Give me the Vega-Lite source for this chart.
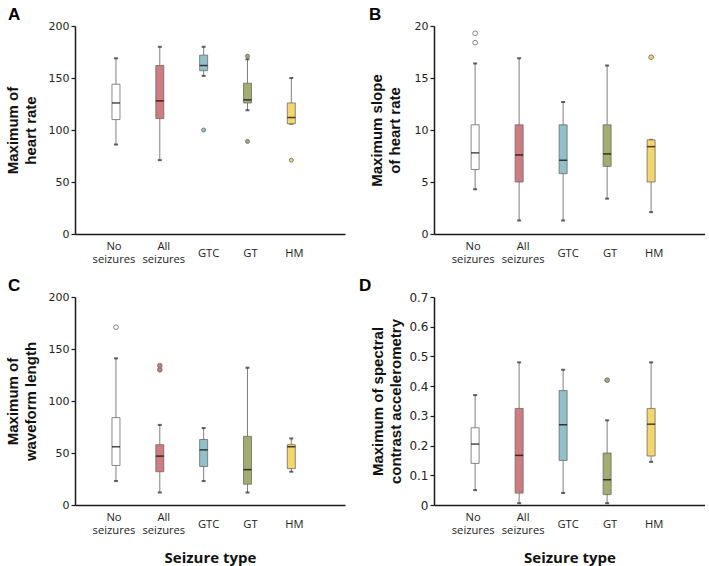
{
  "$schema": "https://vega.github.io/schema/vega-lite/v6.json",
  "background": "white",
  "padding": {"left": 5, "top": 6, "right": 0, "bottom": 0},
  "datasets": {
    "boxes": [
      {"panel": "A", "type": "No seizures", "lower": 86, "q1": 110, "median": 126, "q3": 144, "upper": 169},
      {"panel": "A", "type": "All seizures", "lower": 71, "q1": 111, "median": 128, "q3": 162, "upper": 180},
      {"panel": "A", "type": "GTC", "lower": 152, "q1": 157, "median": 162, "q3": 172, "upper": 180},
      {"panel": "A", "type": "GT", "lower": 119, "q1": 126, "median": 129, "q3": 145, "upper": 168},
      {"panel": "A", "type": "HM", "lower": 106, "q1": 106, "median": 112, "q3": 126, "upper": 150},
      {"panel": "B", "type": "No seizures", "lower": 4.3, "q1": 6.2, "median": 7.8, "q3": 10.5, "upper": 16.4},
      {"panel": "B", "type": "All seizures", "lower": 1.3, "q1": 5.0, "median": 7.6, "q3": 10.5, "upper": 16.9},
      {"panel": "B", "type": "GTC", "lower": 1.3, "q1": 5.8, "median": 7.1, "q3": 10.5, "upper": 12.7},
      {"panel": "B", "type": "GT", "lower": 3.4, "q1": 6.5, "median": 7.7, "q3": 10.5, "upper": 16.2},
      {"panel": "B", "type": "HM", "lower": 2.1, "q1": 5.0, "median": 8.4, "q3": 9.05, "upper": 9.05},
      {"panel": "C", "type": "No seizures", "lower": 23, "q1": 38, "median": 56, "q3": 84, "upper": 141},
      {"panel": "C", "type": "All seizures", "lower": 12, "q1": 32, "median": 47, "q3": 58, "upper": 77},
      {"panel": "C", "type": "GTC", "lower": 23, "q1": 37, "median": 53, "q3": 63, "upper": 74},
      {"panel": "C", "type": "GT", "lower": 12, "q1": 20, "median": 34, "q3": 66, "upper": 132},
      {"panel": "C", "type": "HM", "lower": 32, "q1": 35, "median": 56, "q3": 58, "upper": 64},
      {"panel": "D", "type": "No seizures", "lower": 0.05, "q1": 0.14, "median": 0.205, "q3": 0.26, "upper": 0.37},
      {"panel": "D", "type": "All seizures", "lower": 0.006, "q1": 0.04, "median": 0.167, "q3": 0.325, "upper": 0.48},
      {"panel": "D", "type": "GTC", "lower": 0.04, "q1": 0.15, "median": 0.27, "q3": 0.385, "upper": 0.455},
      {"panel": "D", "type": "GT", "lower": 0.006, "q1": 0.035, "median": 0.085, "q3": 0.175, "upper": 0.285},
      {"panel": "D", "type": "HM", "lower": 0.145, "q1": 0.165, "median": 0.272, "q3": 0.325, "upper": 0.48}
    ],
    "outliers": [
      {"panel": "A", "type": "GTC", "value": 100},
      {"panel": "A", "type": "GT", "value": 171},
      {"panel": "A", "type": "GT", "value": 89},
      {"panel": "A", "type": "HM", "value": 71},
      {"panel": "B", "type": "No seizures", "value": 18.4},
      {"panel": "B", "type": "No seizures", "value": 19.3},
      {"panel": "B", "type": "HM", "value": 17.0},
      {"panel": "C", "type": "No seizures", "value": 171},
      {"panel": "C", "type": "All seizures", "value": 130},
      {"panel": "C", "type": "All seizures", "value": 134},
      {"panel": "D", "type": "GT", "value": 0.42}
    ]
  },
  "columns": 2,
  "align": "each",
  "bounds": "flush",
  "spacing": {"row": 63, "column": 89},
  "concat": [
    {
      "title": {"text": "A", "anchor": "start", "frame": "bounds", "font": "Liberation Sans", "fontSize": 17, "fontWeight": "bold", "color": "#000", "dx": 3, "offset": -4},
      "width": 270, "height": 208,
      "encoding": {"x": {"field": "type", "type": "nominal", "sort": ["No seizures", "All seizures", "GTC", "GT", "HM"], "scale": {"domain": ["No seizures", "All seizures", "GTC", "GT", "HM"], "paddingInner": 0.8, "paddingOuter": 0.98, "align": 0.426}, "axis": {"title": null}}},
      "layer": [
        {"data": {"name": "boxes"}, "transform": [{"filter": "datum.panel == 'A'"}], "mark": {"type": "rule", "color": "#7f7f7f", "strokeWidth": 1}, "encoding": {"y": {"field": "lower", "type": "quantitative", "scale": {"domain": [0, 200], "nice": false}, "axis": {"title": ["Maximum of", "heart rate"], "values": [0, 50, 100, 150, 200], "titlePadding": 10}}, "y2": {"field": "upper"}}},
        {"data": {"name": "boxes"}, "transform": [{"filter": "datum.panel == 'A'"}], "mark": {"type": "tick", "color": "#222", "size": 4, "thickness": 2}, "encoding": {"y": {"field": "lower", "type": "quantitative", "axis": {"title": ["Maximum of", "heart rate"], "values": [0, 50, 100, 150, 200], "titlePadding": 10}}}},
        {"data": {"name": "boxes"}, "transform": [{"filter": "datum.panel == 'A'"}], "mark": {"type": "tick", "color": "#222", "size": 4, "thickness": 2}, "encoding": {"y": {"field": "upper", "type": "quantitative", "axis": {"title": ["Maximum of", "heart rate"], "values": [0, 50, 100, 150, 200], "titlePadding": 10}}}},
        {"data": {"name": "boxes"}, "transform": [{"filter": "datum.panel == 'A'"}], "mark": {"type": "bar", "size": 8, "stroke": "#6b6b6b", "strokeWidth": 0.8}, "encoding": {"y": {"field": "q1", "type": "quantitative", "axis": {"title": ["Maximum of", "heart rate"], "values": [0, 50, 100, 150, 200], "titlePadding": 10}}, "y2": {"field": "q3"}, "fill": {"field": "type", "type": "nominal", "scale": {"domain": ["No seizures", "All seizures", "GTC", "GT", "HM"], "range": ["#ffffff", "#cf7c80", "#93bfc9", "#a3ad70", "#f5d66c"]}, "legend": null}}},
        {"data": {"name": "boxes"}, "transform": [{"filter": "datum.panel == 'A'"}], "mark": {"type": "tick", "color": "#000", "size": 8, "thickness": 1.5}, "encoding": {"y": {"field": "median", "type": "quantitative", "axis": {"title": ["Maximum of", "heart rate"], "values": [0, 50, 100, 150, 200], "titlePadding": 10}}}},
        {"data": {"name": "outliers"}, "transform": [{"filter": "datum.panel == 'A'"}], "mark": {"type": "point", "shape": "circle", "filled": true, "size": 16, "stroke": "#666", "strokeWidth": 0.8, "opacity": 1}, "encoding": {"y": {"field": "value", "type": "quantitative", "axis": {"title": ["Maximum of", "heart rate"], "values": [0, 50, 100, 150, 200], "titlePadding": 10}}, "fill": {"field": "type", "type": "nominal", "legend": null}}}
      ]
    },
    {
      "title": {"text": "B", "anchor": "start", "frame": "bounds", "font": "Liberation Sans", "fontSize": 17, "fontWeight": "bold", "color": "#000", "dx": 0, "offset": -4},
      "width": 271, "height": 208,
      "encoding": {"x": {"field": "type", "type": "nominal", "sort": ["No seizures", "All seizures", "GTC", "GT", "HM"], "scale": {"domain": ["No seizures", "All seizures", "GTC", "GT", "HM"], "paddingInner": 0.8, "paddingOuter": 0.98, "align": 0.426}, "axis": {"title": null}}},
      "layer": [
        {"data": {"name": "boxes"}, "transform": [{"filter": "datum.panel == 'B'"}], "mark": {"type": "rule", "color": "#7f7f7f", "strokeWidth": 1}, "encoding": {"y": {"field": "lower", "type": "quantitative", "scale": {"domain": [0, 20], "nice": false}, "axis": {"title": ["Maximum slope", "of heart rate"], "values": [0, 5, 10, 15, 20], "titlePadding": 12}}, "y2": {"field": "upper"}}},
        {"data": {"name": "boxes"}, "transform": [{"filter": "datum.panel == 'B'"}], "mark": {"type": "tick", "color": "#222", "size": 4, "thickness": 2}, "encoding": {"y": {"field": "lower", "type": "quantitative", "axis": {"title": ["Maximum slope", "of heart rate"], "values": [0, 5, 10, 15, 20], "titlePadding": 12}}}},
        {"data": {"name": "boxes"}, "transform": [{"filter": "datum.panel == 'B'"}], "mark": {"type": "tick", "color": "#222", "size": 4, "thickness": 2}, "encoding": {"y": {"field": "upper", "type": "quantitative", "axis": {"title": ["Maximum slope", "of heart rate"], "values": [0, 5, 10, 15, 20], "titlePadding": 12}}}},
        {"data": {"name": "boxes"}, "transform": [{"filter": "datum.panel == 'B'"}], "mark": {"type": "bar", "size": 8, "stroke": "#6b6b6b", "strokeWidth": 0.8}, "encoding": {"y": {"field": "q1", "type": "quantitative", "axis": {"title": ["Maximum slope", "of heart rate"], "values": [0, 5, 10, 15, 20], "titlePadding": 12}}, "y2": {"field": "q3"}, "fill": {"field": "type", "type": "nominal", "scale": {"domain": ["No seizures", "All seizures", "GTC", "GT", "HM"], "range": ["#ffffff", "#cf7c80", "#93bfc9", "#a3ad70", "#f5d66c"]}, "legend": null}}},
        {"data": {"name": "boxes"}, "transform": [{"filter": "datum.panel == 'B'"}], "mark": {"type": "tick", "color": "#000", "size": 8, "thickness": 1.5}, "encoding": {"y": {"field": "median", "type": "quantitative", "axis": {"title": ["Maximum slope", "of heart rate"], "values": [0, 5, 10, 15, 20], "titlePadding": 12}}}},
        {"data": {"name": "outliers"}, "transform": [{"filter": "datum.panel == 'B'"}], "mark": {"type": "point", "shape": "circle", "filled": true, "size": 22, "stroke": "#666", "strokeWidth": 0.8, "opacity": 1}, "encoding": {"y": {"field": "value", "type": "quantitative", "axis": {"title": ["Maximum slope", "of heart rate"], "values": [0, 5, 10, 15, 20], "titlePadding": 12}}, "fill": {"field": "type", "type": "nominal", "legend": null}}}
      ]
    },
    {
      "title": {"text": "C", "anchor": "start", "frame": "bounds", "font": "Liberation Sans", "fontSize": 17, "fontWeight": "bold", "color": "#000", "dx": 3, "offset": -4},
      "width": 270, "height": 208,
      "encoding": {"x": {"field": "type", "type": "nominal", "sort": ["No seizures", "All seizures", "GTC", "GT", "HM"], "scale": {"domain": ["No seizures", "All seizures", "GTC", "GT", "HM"], "paddingInner": 0.8, "paddingOuter": 0.98, "align": 0.426}, "axis": {"title": "Seizure type"}}},
      "layer": [
        {"data": {"name": "boxes"}, "transform": [{"filter": "datum.panel == 'C'"}], "mark": {"type": "rule", "color": "#7f7f7f", "strokeWidth": 1}, "encoding": {"y": {"field": "lower", "type": "quantitative", "scale": {"domain": [0, 200], "nice": false}, "axis": {"title": ["Maximum of", "waveform length"], "values": [0, 50, 100, 150, 200], "titlePadding": 10}}, "y2": {"field": "upper"}}},
        {"data": {"name": "boxes"}, "transform": [{"filter": "datum.panel == 'C'"}], "mark": {"type": "tick", "color": "#222", "size": 4, "thickness": 2}, "encoding": {"y": {"field": "lower", "type": "quantitative", "axis": {"title": ["Maximum of", "waveform length"], "values": [0, 50, 100, 150, 200], "titlePadding": 10}}}},
        {"data": {"name": "boxes"}, "transform": [{"filter": "datum.panel == 'C'"}], "mark": {"type": "tick", "color": "#222", "size": 4, "thickness": 2}, "encoding": {"y": {"field": "upper", "type": "quantitative", "axis": {"title": ["Maximum of", "waveform length"], "values": [0, 50, 100, 150, 200], "titlePadding": 10}}}},
        {"data": {"name": "boxes"}, "transform": [{"filter": "datum.panel == 'C'"}], "mark": {"type": "bar", "size": 8, "stroke": "#6b6b6b", "strokeWidth": 0.8}, "encoding": {"y": {"field": "q1", "type": "quantitative", "axis": {"title": ["Maximum of", "waveform length"], "values": [0, 50, 100, 150, 200], "titlePadding": 10}}, "y2": {"field": "q3"}, "fill": {"field": "type", "type": "nominal", "scale": {"domain": ["No seizures", "All seizures", "GTC", "GT", "HM"], "range": ["#ffffff", "#cf7c80", "#93bfc9", "#a3ad70", "#f5d66c"]}, "legend": null}}},
        {"data": {"name": "boxes"}, "transform": [{"filter": "datum.panel == 'C'"}], "mark": {"type": "tick", "color": "#000", "size": 8, "thickness": 1.5}, "encoding": {"y": {"field": "median", "type": "quantitative", "axis": {"title": ["Maximum of", "waveform length"], "values": [0, 50, 100, 150, 200], "titlePadding": 10}}}},
        {"data": {"name": "outliers"}, "transform": [{"filter": "datum.panel == 'C'"}], "mark": {"type": "point", "shape": "circle", "filled": true, "size": 22, "stroke": "#666", "strokeWidth": 0.8, "opacity": 1}, "encoding": {"y": {"field": "value", "type": "quantitative", "axis": {"title": ["Maximum of", "waveform length"], "values": [0, 50, 100, 150, 200], "titlePadding": 10}}, "fill": {"field": "type", "type": "nominal", "legend": null}}}
      ]
    },
    {
      "title": {"text": "D", "anchor": "start", "frame": "bounds", "font": "Liberation Sans", "fontSize": 17, "fontWeight": "bold", "color": "#000", "dx": -12, "offset": -4},
      "width": 271, "height": 208,
      "encoding": {"x": {"field": "type", "type": "nominal", "sort": ["No seizures", "All seizures", "GTC", "GT", "HM"], "scale": {"domain": ["No seizures", "All seizures", "GTC", "GT", "HM"], "paddingInner": 0.8, "paddingOuter": 0.98, "align": 0.426}, "axis": {"title": "Seizure type"}}},
      "layer": [
        {"data": {"name": "boxes"}, "transform": [{"filter": "datum.panel == 'D'"}], "mark": {"type": "rule", "color": "#7f7f7f", "strokeWidth": 1}, "encoding": {"y": {"field": "lower", "type": "quantitative", "scale": {"domain": [0, 0.7], "nice": false}, "axis": {"title": ["Maximum of spectral", "contrast accelerometry"], "values": [0, 0.1, 0.2, 0.3, 0.4, 0.5, 0.6, 0.7], "labelExpr": "datum.value == 0 ? '0' : format(datum.value, '.1f')", "labelFontSize": 12, "titlePadding": 5}}, "y2": {"field": "upper"}}},
        {"data": {"name": "boxes"}, "transform": [{"filter": "datum.panel == 'D'"}], "mark": {"type": "tick", "color": "#222", "size": 4, "thickness": 2}, "encoding": {"y": {"field": "lower", "type": "quantitative", "axis": {"title": ["Maximum of spectral", "contrast accelerometry"], "values": [0, 0.1, 0.2, 0.3, 0.4, 0.5, 0.6, 0.7], "labelExpr": "datum.value == 0 ? '0' : format(datum.value, '.1f')", "labelFontSize": 12, "titlePadding": 5}}}},
        {"data": {"name": "boxes"}, "transform": [{"filter": "datum.panel == 'D'"}], "mark": {"type": "tick", "color": "#222", "size": 4, "thickness": 2}, "encoding": {"y": {"field": "upper", "type": "quantitative", "axis": {"title": ["Maximum of spectral", "contrast accelerometry"], "values": [0, 0.1, 0.2, 0.3, 0.4, 0.5, 0.6, 0.7], "labelExpr": "datum.value == 0 ? '0' : format(datum.value, '.1f')", "labelFontSize": 12, "titlePadding": 5}}}},
        {"data": {"name": "boxes"}, "transform": [{"filter": "datum.panel == 'D'"}], "mark": {"type": "bar", "size": 8, "stroke": "#6b6b6b", "strokeWidth": 0.8}, "encoding": {"y": {"field": "q1", "type": "quantitative", "axis": {"title": ["Maximum of spectral", "contrast accelerometry"], "values": [0, 0.1, 0.2, 0.3, 0.4, 0.5, 0.6, 0.7], "labelExpr": "datum.value == 0 ? '0' : format(datum.value, '.1f')", "labelFontSize": 12, "titlePadding": 5}}, "y2": {"field": "q3"}, "fill": {"field": "type", "type": "nominal", "scale": {"domain": ["No seizures", "All seizures", "GTC", "GT", "HM"], "range": ["#ffffff", "#cf7c80", "#93bfc9", "#a3ad70", "#f5d66c"]}, "legend": null}}},
        {"data": {"name": "boxes"}, "transform": [{"filter": "datum.panel == 'D'"}], "mark": {"type": "tick", "color": "#000", "size": 8, "thickness": 1.5}, "encoding": {"y": {"field": "median", "type": "quantitative", "axis": {"title": ["Maximum of spectral", "contrast accelerometry"], "values": [0, 0.1, 0.2, 0.3, 0.4, 0.5, 0.6, 0.7], "labelExpr": "datum.value == 0 ? '0' : format(datum.value, '.1f')", "labelFontSize": 12, "titlePadding": 5}}}},
        {"data": {"name": "outliers"}, "transform": [{"filter": "datum.panel == 'D'"}], "mark": {"type": "point", "shape": "circle", "filled": true, "size": 22, "stroke": "#666", "strokeWidth": 0.8, "opacity": 1}, "encoding": {"y": {"field": "value", "type": "quantitative", "axis": {"title": ["Maximum of spectral", "contrast accelerometry"], "values": [0, 0.1, 0.2, 0.3, 0.4, 0.5, 0.6, 0.7], "labelExpr": "datum.value == 0 ? '0' : format(datum.value, '.1f')", "labelFontSize": 12, "titlePadding": 5}}, "fill": {"field": "type", "type": "nominal", "legend": null}}}
      ]
    }
  ],
  "resolve": {"scale": {"fill": "independent"}},
  "config": {
    "view": {"stroke": null},
    "axis": {"grid": false, "domainColor": "#1a1a1a", "domainWidth": 1.5, "tickColor": "#1a1a1a", "tickWidth": 1.2, "labelColor": "#222", "titleColor": "#111"},
    "axisY": {"labelOverlap": false, "tickSize": 4, "labelFont": "DejaVu Sans", "labelFontSize": 11, "labelPadding": 2, "titleFont": "Liberation Sans", "titleFontSize": 15, "titleFontWeight": "bold", "titleLineHeight": 18},
    "axisX": {"labelAngle": 0, "labelExpr": "split(datum.label, ' ')", "labelFont": "Open Sans", "labelFontSize": 11.2, "labelBaseline": "middle", "labelPadding": {"condition": {"test": "datum.value == 'No seizures' || datum.value == 'All seizures'", "value": 12}, "value": 19}, "labelOffset": {"condition": [{"test": "datum.value == 'No seizures'", "value": -2}, {"test": "datum.value == 'All seizures'", "value": 4}, {"test": "datum.value == 'GTC'", "value": 5}], "value": 3}, "labelLineHeight": 13, "ticks": false, "titleFont": "Open Sans", "titleFontSize": 15, "titleFontWeight": "bold", "titlePadding": 15}
  }
}
